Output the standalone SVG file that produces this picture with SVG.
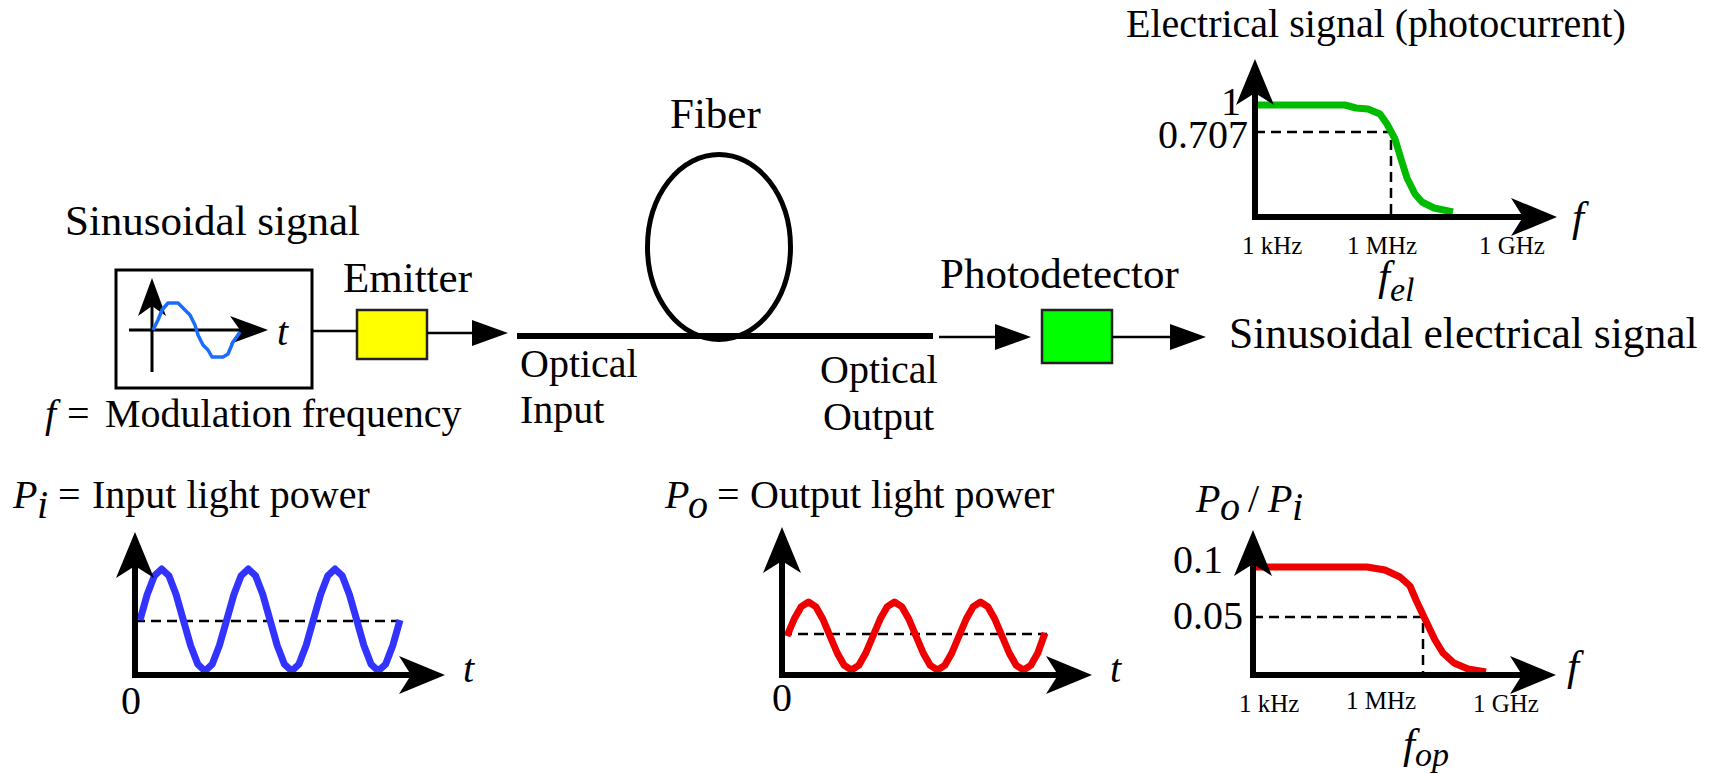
<svg xmlns="http://www.w3.org/2000/svg" width="1709" height="774" viewBox="0 0 1709 774" font-family="'Liberation Serif','Times New Roman','DejaVu Serif',serif">
<style>
text{font-family:"Liberation Serif","Times New Roman","DejaVu Serif",serif;fill:#000}
.big{font-size:43px}
.med{font-size:40px}
.tick{font-size:25px}
.it{font-style:italic}
.axis{fill:none;stroke:#000;stroke-width:6;stroke-linejoin:miter;marker-start:url(#axisHead);marker-end:url(#axisHead)}
.saxis{fill:none;stroke:#000;stroke-width:3;marker-end:url(#smallHead)}
.dash{fill:none;stroke:#000;stroke-width:2.5;stroke-dasharray:10 6}
.conn{fill:none;stroke:#000;stroke-width:2.5}
.curve{fill:none;stroke-width:7;stroke-linejoin:round;stroke-linecap:butt}
</style>
<defs>
<marker id="axisHead" markerUnits="userSpaceOnUse" markerWidth="46" markerHeight="38" viewBox="0 0 46 38" refX="12" refY="19" orient="auto-start-reverse"><path d="M0,0 L46,19 L0,38 L12,19 Z" fill="#000"/></marker>
<marker id="smallHead" markerUnits="userSpaceOnUse" markerWidth="38" markerHeight="28" viewBox="0 0 38 28" refX="10" refY="14" orient="auto"><path d="M0,0 L38,14 L0,28 L10,14 Z" fill="#000"/></marker>
<marker id="connHead" markerUnits="userSpaceOnUse" markerWidth="36" markerHeight="26" viewBox="0 0 36 26" refX="0" refY="13" orient="auto"><path d="M0,0 L36,13 L0,26 Z" fill="#000"/></marker>
</defs>

<g id="signal-source">
<text class="big" x="65" y="235">Sinusoidal signal</text>
<rect x="116" y="270" width="196" height="118" fill="#fff" stroke="#000" stroke-width="3"/>
<path class="saxis" d="M152,372 V306"/>
<path class="saxis" d="M129,330 H240"/>
<polyline class="curve" style="stroke:#1a6cff;stroke-width:3.5" points="153,330 158,320 162,310 168,303 178,303 190,315 195,325 198,335 203,345 208,350 212,357 223,357 228,354 233,342 238,335 240,332"/>
<text class="med it" x="277" y="345">t</text>
<text class="med" y="427"><tspan class="it" x="45">f</tspan><tspan x="67">=</tspan><tspan x="105">Modulation frequency</tspan></text>
</g>

<g id="emitter">
<text class="big" x="343" y="292">Emitter</text>
<rect x="357" y="310" width="70" height="49" fill="#ffff00" stroke="#222" stroke-width="2.5"/>
</g>

<g id="fiber">
<text class="big" x="670" y="128">Fiber</text>
<ellipse cx="719" cy="247" rx="71.5" ry="92.5" fill="none" stroke="#000" stroke-width="5"/>
<path d="M517,336 H933" stroke="#000" stroke-width="6" fill="none"/>
<text class="med" x="520" y="377">Optical</text>
<text class="med" x="520" y="423">Input</text>
<text class="med" x="820" y="383">Optical</text>
<text class="med" x="823" y="430">Output</text>
</g>

<g id="photodetector">
<text class="big" x="940" y="288">Photodetector</text>
<rect x="1042" y="310" width="70" height="53" fill="#00ff00" stroke="#222" stroke-width="2.5"/>
</g>

<g id="output-signal">
<text class="big" x="1229" y="348" style="font-size:43.5px">Sinusoidal electrical signal</text>
</g>

<g id="connectors">
<path class="conn" d="M312,331 H357"/>
<path class="conn" d="M427,333 H472" marker-end="url(#connHead)"/>
<path class="conn" d="M939,337 H995" marker-end="url(#connHead)"/>
<path class="conn" d="M1112,337 H1170" marker-end="url(#connHead)"/>
</g>

<g id="graph-electrical">
<text class="med" x="1126" y="37">Electrical signal (photocurrent)</text>
<path class="dash" d="M1255,132 H1391 V214"/>
<polyline class="curve" style="stroke:#00bb00" points="1255,105 1345,105 1356,108 1368,109 1380,114 1387,124 1395,139 1401,159 1407,178 1415,194 1422,202 1434,208 1453,212"/>
<path class="axis" d="M1255,93 V217 H1523"/>
<text class="med" x="1241" y="115" text-anchor="end">1</text>
<text class="med" x="1248" y="148" text-anchor="end">0.707</text>
<text class="tick" x="1242" y="254">1 kHz</text>
<text class="tick" x="1347" y="254">1 MHz</text>
<text class="tick" x="1479" y="254">1 GHz</text>
<text class="big it" x="1572" y="231">f</text>
<text class="big it" x="1378" y="290">f<tspan style="font-size:34px" dy="11">el</tspan></text>
</g>

<g id="graph-input">
<text class="med" y="508"><tspan class="it" x="13">P</tspan><tspan class="it" x="37" dy="10">i</tspan><tspan x="58" dy="-10">=</tspan><tspan x="92">Input light power</tspan></text>
<path class="dash" d="M135,621 H397"/>
<polyline class="curve" style="stroke:#3333ff" points="140,620 147.2,594.5 154.4,575.8 161.7,569 168.9,575.8 176.1,594.5 183.3,620 190.6,645.5 197.8,664.2 205,671 212.2,664.2 219.4,645.5 226.7,620 233.9,594.5 241.1,575.8 248.3,569 255.6,575.8 262.8,594.5 270,620 277.2,645.5 284.4,664.2 291.7,671 298.9,664.2 306.1,645.5 313.3,620 320.6,594.5 327.8,575.8 335,569 342.2,575.8 349.4,594.5 356.7,620 363.9,645.5 371.1,664.2 378.3,671 385.6,664.2 392.8,645.5 400,620"/>
<path class="axis" d="M135,566 V675 H411"/>
<text class="med it" x="463" y="682">t</text>
<text class="med" x="121" y="714">0</text>
</g>

<g id="graph-output">
<text class="med" y="508"><tspan class="it" x="665">P</tspan><tspan class="it" x="688" dy="10">o</tspan><tspan x="717" dy="-10">=</tspan><tspan x="750">Output light power</tspan></text>
<path class="dash" d="M782,634 H1047"/>
<polyline class="curve" style="stroke:#ee0000" points="787,636 794.2,619 801.3,606.6 808.5,602 815.7,606.6 822.8,619 830,636 837.2,653 844.3,665.4 851.5,670 858.7,665.4 865.8,653 873,636 880.2,619 887.3,606.6 894.5,602 901.7,606.6 908.8,619 916,636 923.2,653 930.3,665.4 937.5,670 944.7,665.4 951.8,653 959,636 966.2,619 973.3,606.6 980.5,602 987.7,606.6 994.8,619 1002,636 1009.2,653 1016.3,665.4 1023.5,670 1030.7,665.4 1037.8,653 1045,633"/>
<path class="axis" d="M782,561 V675 H1058"/>
<text class="med it" x="1110" y="682">t</text>
<text class="med" x="772" y="711">0</text>
</g>

<g id="graph-optical">
<text class="med" y="512"><tspan class="it" x="1196">P</tspan><tspan class="it" x="1220" dy="8">o</tspan><tspan x="1248" dy="-8">/</tspan><tspan class="it" x="1268">P</tspan><tspan class="it" x="1292" dy="8">i</tspan></text>
<path class="dash" d="M1253,617 H1423 V672"/>
<polyline class="curve" style="stroke:#ee0000" points="1253,567 1367,567 1385,570 1400,577 1410,586 1416,600 1424,617 1435,640 1443,653 1454,663 1468,669 1486,672"/>
<path class="axis" d="M1253,564 V675 H1522"/>
<text class="med" x="1173" y="573">0.1</text>
<text class="med" x="1173" y="629">0.05</text>
<text class="tick" x="1239" y="712">1 kHz</text>
<text class="tick" x="1346" y="709">1 MHz</text>
<text class="tick" x="1473" y="712">1 GHz</text>
<text class="big it" x="1567" y="680">f</text>
<text class="big it" x="1403" y="758">f<tspan style="font-size:34px" dy="8">op</tspan></text>
</g>
</svg>
